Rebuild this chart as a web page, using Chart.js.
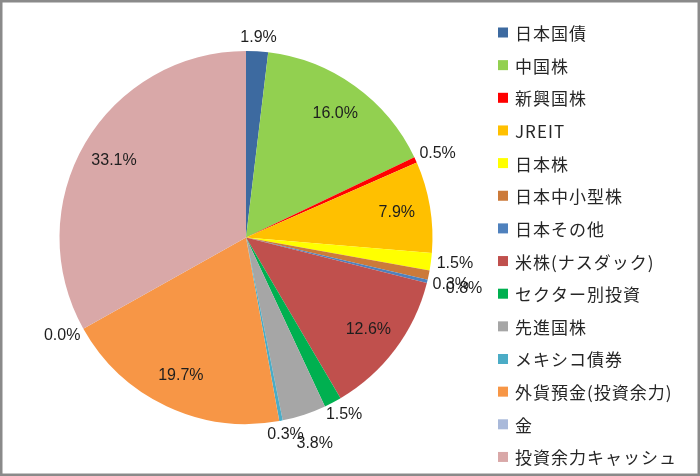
<!DOCTYPE html>
<html><head><meta charset="utf-8">
<script src="https://cdn.jsdelivr.net/npm/chart.js@4/dist/chart.umd.min.js"></script>
<style>html,body{margin:0;padding:0;background:#fff}</style>
</head><body>
<canvas id="c" width="700" height="476"></canvas>
<script>
const categories = ['日本国債','中国株','新興国株','JREIT','日本株','日本中小型株','日本その他','米株(ナスダック)','セクター別投資','先進国株','メキシコ債券','外貨預金(投資余力)','金','投資余力キャッシュ'];
const shares = [1.9, 16.0, 0.5, 7.9, 1.5, 0.8, 0.3, 12.6, 1.5, 3.8, 0.3, 19.7, 0.0, 33.1];
const sliceColors = ['#3D6AA0','#92D050','#FF0000','#FFC000','#FFFF00','#CC7A3A','#4F81BD','#C0504D','#00B050','#A6A6A6','#4BACC6','#F79646','#A9B9DA','#D9A8A8'];

const LABEL_FONT = '16px "Liberation Sans", Arial, sans-serif';
const LEGEND_FONT = '17px "Noto Sans CJK JP", sans-serif';

const bgPlugin = {
  id: 'bg',
  beforeDraw(chart) {
    const c = chart.ctx;
    c.save(); c.fillStyle = '#fff'; c.fillRect(0, 0, chart.width, chart.height); c.restore();
  },
  afterDraw(chart) {
    const c = chart.ctx;
    c.save(); c.strokeStyle = '#8a8a8a'; c.lineWidth = 2.5;
    c.strokeRect(1.25, 1.25, chart.width - 2.5, chart.height - 2.5); c.restore();
  }
};

const labelPlugin = {
  id: 'pctLabels',
  afterDatasetsDraw(chart) {
    const c = chart.ctx;
    const meta = chart.getDatasetMeta(0);
    const vals = chart.data.datasets[0].data;
    c.save();
    c.font = LABEL_FONT;
    c.fillStyle = '#1e1e1e';
    c.textAlign = 'center';
    c.textBaseline = 'middle';
    const placed = [];
    const boxes = [];
    const overlap = (a, b) => Math.abs(a.x - b.x) < (a.w + b.w) / 2 && Math.abs(a.y - b.y) < (a.h + b.h) / 2;
    for (let i = meta.data.length - 1; i >= 0; i--) {
      const arc = meta.data[i];
      const p = arc.getProps(['x','y','startAngle','endAngle','outerRadius'], true);
      const mid = (p.startAngle + p.endAngle) / 2;
      const ux = Math.cos(mid), uy = Math.sin(mid);
      const txt = vals[i].toFixed(1) + '%';
      const w = c.measureText(txt).width, h = 12;
      let b;
      if (vals[i] >= 5) {
        const r = p.outerRadius * 0.82;
        b = {x: p.x + ux * r, y: p.y + uy * r, w, h};
      } else {
        const r = p.outerRadius + 6;
        b = {x: p.x + ux * r + ux * w / 2, y: p.y + uy * r + uy * 8, w, h};
        let dx = ux * 0.7, dy = Math.abs(uy) * 0.7 + 0.5;
        const n = Math.hypot(dx, dy); dx /= n; dy /= n;
        let push = 0;
        while (push < 16 && boxes.some(o => overlap(o, b))) {
          push += 1; b.x += dx; b.y += dy;
        }
        boxes.push(b);
      }
      placed.push([txt, b]);
    }
    placed.forEach(([t, b]) => c.fillText(t, b.x, b.y));
    c.restore();
  }
};

const legendPlugin = {
  id: 'sideLegend',
  afterDraw(chart) {
    const c = chart.ctx;
    const ds = chart.data.datasets[0];
    const left = chart.chartArea.right + 6;
    const top = 32.5, step = 32.65, box = 10;
    c.save();
    c.font = LEGEND_FONT;
    if ('letterSpacing' in c) c.letterSpacing = '1px';
    c.textBaseline = 'middle';
    c.textAlign = 'left';
    chart.data.labels.forEach((lab, i) => {
      const cy = top + i * step;
      c.fillStyle = ds.backgroundColor[i];
      c.fillRect(left, cy - box / 2, box, box);
      c.fillStyle = '#262626';
      c.fillText(lab, left + box + 7, cy + 1);
    });
    c.restore();
  }
};

new Chart(document.getElementById('c'), {
  type: 'pie',
  data: {
    labels: categories,
    datasets: [{
      data: shares,
      backgroundColor: sliceColors,
      borderWidth: 0
    }]
  },
  options: {
    responsive: false,
    animation: false,
    radius: 186.5,
    layout: { padding: { left: 0, right: 208, top: 0, bottom: 1 } },
    plugins: { legend: { display: false }, tooltip: { enabled: false } }
  },
  plugins: [bgPlugin, labelPlugin, legendPlugin]
});
</script>
</body></html>
